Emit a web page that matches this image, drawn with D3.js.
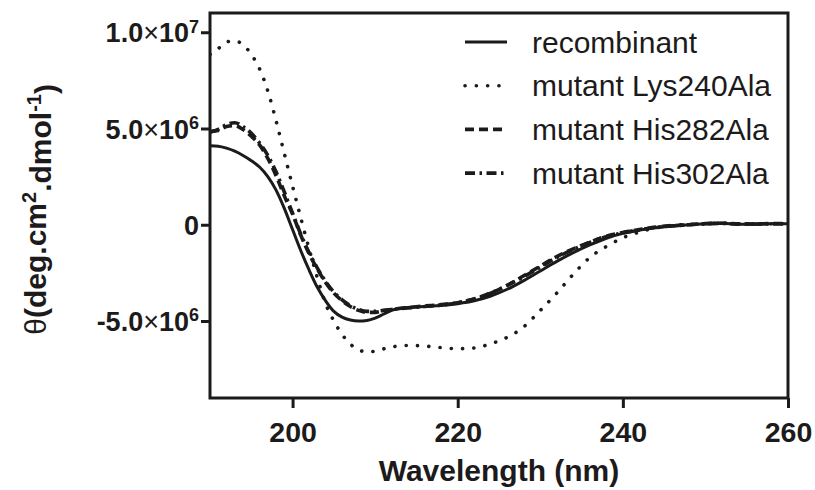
<!DOCTYPE html>
<html>
<head>
<meta charset="utf-8">
<script src="https://cdn.jsdelivr.net/npm/d3@7"></script>
<style>
    body{ margin:0; background:#fff; }
    svg{ display:block; font-family:"Liberation Sans", Arial, sans-serif; }
</style>
</head>
<body>
<div class="chart"></div>
<script>

//// data (values in units of 1e6 deg.cm2.dmol-1)

const wavelength = [190,191,192,193,194,195,196,197,198,199,200,201,202,203,204,205,206,207,208,209,210,211,212,
    214,216,218,220,222,224,226,228,230,232,234,236,238,240,242,244,246,248,250,252,254,256,258,260];

const recombinant = [4.1,4.08,3.98,3.82,3.6,3.33,3.0,2.5,1.8,0.85,-0.25,-1.35,-2.35,-3.25,-3.95,-4.5,-4.8,-4.95,-5.0,-4.97,-4.85,-4.65,-4.45,
    -4.3,-4.25,-4.2,-4.1,-3.95,-3.7,-3.35,-2.9,-2.4,-1.9,-1.45,-1.05,-0.7,-0.45,-0.28,-0.15,-0.07,0,0.05,0.08,0.03,0.03,0.05,0.05];

const lys240 = [8.85,9.15,9.5,9.55,9.35,8.85,8.1,6.95,5.4,3.7,2.0,0.35,-1.25,-2.75,-4.1,-5.0,-5.7,-6.2,-6.5,-6.6,-6.57,-6.45,-6.35,
    -6.27,-6.3,-6.38,-6.44,-6.4,-6.18,-5.85,-5.3,-4.45,-3.55,-2.57,-1.7,-1.13,-0.68,-0.38,-0.16,-0.03,0.02,0.05,0.08,0.03,0.03,0.05,0.05];

const his282 = [4.85,4.9,5.1,5.15,4.95,4.6,4.15,3.45,2.55,1.5,0.55,-0.55,-1.5,-2.3,-3.0,-3.55,-3.95,-4.25,-4.45,-4.55,-4.55,-4.47,-4.4,
    -4.3,-4.22,-4.15,-4.05,-3.85,-3.55,-3.15,-2.65,-2.15,-1.65,-1.25,-0.9,-0.6,-0.4,-0.25,-0.12,-0.05,0,0.06,0.08,0.05,0.04,0.06,0.06];

const his302 = [4.8,4.95,5.2,5.3,5.1,4.75,4.25,3.6,2.75,1.7,0.6,-0.5,-1.45,-2.25,-2.95,-3.5,-3.9,-4.2,-4.4,-4.5,-4.5,-4.45,-4.4,
    -4.32,-4.25,-4.17,-4.05,-3.85,-3.55,-3.15,-2.7,-2.2,-1.7,-1.28,-0.92,-0.62,-0.42,-0.26,-0.13,-0.06,0,0.05,0.07,0.04,0.04,0.05,0.05];

const seriesNames = ['recombinant','mutant Lys240Ala','mutant His282Ala','mutant His302Ala'];
const seriesValues = [recombinant, lys240, his282, his302];

const xTicks = [200,220,240,260];
const yTicks = [10e6, 5e6, 0, -5e6];
const yTickLabels = [['1.0','7'],['5.0','6'],['0',null],['-5.0','6']]; //mantissa, exponent


//// build

const w = 815, h = 490;
const margin = {top:13, right:27, bottom:92, left:210};
const ink = '#1c1a1b';

// line styles per series
const styles = [
    {width:3, dash:null, cap:'butt'},
    {width:3.6, dash:'0.1,11.2', cap:'round'},
    {width:3.6, dash:'9,5', cap:'butt'},
    {width:3.6, dash:'10,4.5,2.5,4.5', cap:'butt'}
];

const svg = d3.select('.chart')
    .append('svg')
    .attr('width', w)
    .attr('height', h);

const x = d3.scaleLinear()
    .domain([190,260])
    .range([margin.left, w - margin.right]);

const y = d3.scaleLinear()
    .domain([-9e6, 11e6])
    .range([h - margin.bottom, margin.top]);

const series = seriesNames.map((name,i) => {
    return {
        name: name,
        style: styles[i],
        points: wavelength.map((wl,j) => ({wl: wl, v: seriesValues[i][j]*1e6}))
    }
});

const line = d3.line()
    .x(d => x(d.wl))
    .y(d => y(d.v))
    .curve(d3.curveMonotoneX);

svg.append('clipPath').attr('id','plotclip')
    .append('rect')
    .attr('x', margin.left).attr('y', margin.top)
    .attr('width', w - margin.left - margin.right)
    .attr('height', h - margin.top - margin.bottom);

svg.append('g')
    .attr('clip-path','url(#plotclip)')
    .selectAll('path')
    .data(series)
    .enter()
    .append('path')
    .attr('d', d => line(d.points))
    .style('fill','none')
    .style('stroke', ink)
    .style('stroke-width', d => d.style.width)
    .style('stroke-dasharray', d => d.style.dash)
    .style('stroke-linecap', d => d.style.cap)
    .style('stroke-linejoin','round');

// axes
const xAxis = svg.append('g')
    .attr('transform', `translate(0,${h - margin.bottom})`)
    .call(d3.axisBottom(x).tickValues(xTicks).tickSize(10).tickPadding(14).tickSizeOuter(0));

const yAxis = svg.append('g')
    .attr('transform', `translate(${margin.left},0)`)
    .call(d3.axisLeft(y).tickValues(yTicks).tickSize(9).tickSizeOuter(0).tickFormat(''));

[xAxis, yAxis].forEach(a => {
    a.select('.domain').remove();
    a.selectAll('.tick line').style('stroke', ink).style('stroke-width', 3);
});

xAxis.selectAll('.tick text')
    .style('font-size','28.5px')
    .style('font-weight','bold')
    .style('fill', ink);

// y tick labels with superscripts
yAxis.selectAll('.tick').each(function(d,i){
    const lab = yTickLabels[i];
    const t = d3.select(this).append('text')
        .attr('x', -11)
        .attr('dy','0.36em')
        .attr('text-anchor','end')
        .style('font-size','27px')
        .style('font-weight','bold')
        .style('fill', ink);
    t.append('tspan').text(lab[0]);
    if(lab[1]){
        t.append('tspan').text('×').style('font-weight','normal');
        t.append('tspan').text('10');
        t.append('tspan').text(lab[1]).attr('dy','-0.55em').style('font-size','18px');
    }
});

// frame
svg.append('rect')
    .attr('x', margin.left).attr('y', margin.top)
    .attr('width', w - margin.left - margin.right)
    .attr('height', h - margin.top - margin.bottom)
    .style('fill','none')
    .style('stroke', ink)
    .style('stroke-width', 3);

// axis titles
svg.append('text')
    .attr('x', x(225))
    .attr('y', 481)
    .attr('text-anchor','middle')
    .style('font-size','30px')
    .style('font-weight','bold')
    .style('fill', ink)
    .text('Wavelength (nm)');

const yTitle = svg.append('text')
    .attr('transform', `translate(46,${y(0.8e6)}) rotate(-90)`)
    .attr('text-anchor','middle')
    .style('font-size','30px')
    .style('font-weight','bold')
    .style('fill', ink);
yTitle.append('tspan').text('θ').style('font-weight','normal');
yTitle.append('tspan').text('(deg.cm');
yTitle.append('tspan').text('2').attr('dy','-0.5em').style('font-size','20px');
yTitle.append('tspan').text('.dmol').attr('dy','0.5em');
yTitle.append('tspan').text('-1').attr('dy','-0.5em').style('font-size','20px');
yTitle.append('tspan').text(')').attr('dy','0.5em');

// legend
const legend = svg.append('g')
    .selectAll('.leg')
    .data(series)
    .enter()
    .append('g')
    .attr('class','leg')
    .attr('transform', (d,i) => `translate(465,${42 + i*43.7})`);

legend.append('line')
    .attr('x1', 0).attr('x2', 42)
    .style('stroke', ink)
    .style('stroke-width', d => d.style.width)
    .style('stroke-dasharray', d => d.style.dash)
    .style('stroke-linecap', d => d.style.cap);

legend.append('text')
    .attr('x', 67)
    .attr('dy','0.35em')
    .style('font-size','30px')
    .style('fill', ink)
    .text(d => d.name);

</script>
</body>
</html>
